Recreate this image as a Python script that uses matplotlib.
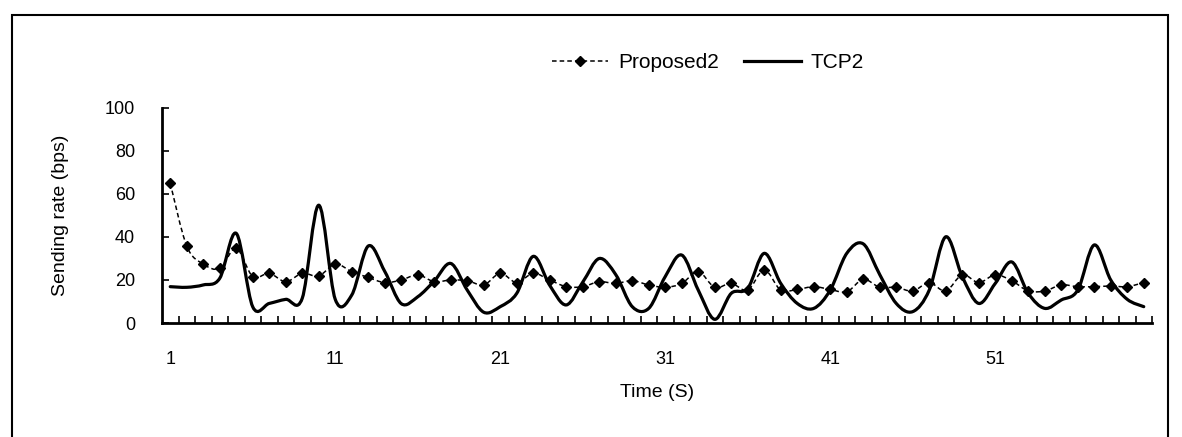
import matplotlib
matplotlib.use("Agg")
import matplotlib.pyplot as plt
import numpy as np
from matplotlib.path import Path
from matplotlib.patches import PathPatch, Rectangle
from matplotlib.lines import Line2D

# ---- data ----
time = list(range(1, 61))
proposed2 = [65.0, 35.8, 27.4, 25.4, 34.7, 21.6, 23.1, 19.2, 23.1, 21.9,
             27.4, 23.9, 21.2, 18.8, 20.0, 22.4, 19.2, 20.0, 19.7, 17.7,
             23.1, 18.8, 23.1, 20.0, 16.9, 16.9, 19.2, 18.4, 19.7, 17.7,
             16.6, 18.4, 23.9, 16.6, 18.4, 15.3, 24.7, 15.3, 15.6, 16.9,
             15.6, 14.5, 20.3, 16.6, 16.6, 14.9, 18.8, 14.9, 22.4, 18.8,
             22.4, 19.7, 14.9, 14.9, 17.7, 16.9, 16.9, 17.2, 16.9, 18.8]
tcp2 = [16.9, 16.6, 17.7, 20.8, 41.7, 7.5, 9.1, 11.0, 11.5, 54.8,
        11.0, 13.0, 35.8, 24.0, 9.0, 12.2, 19.5, 27.7, 15.3, 5.0,
        7.6, 13.8, 31.0, 17.5, 8.4, 19.0, 30.0, 22.5, 7.6, 6.8,
        21.6, 31.6, 15.3, 1.7, 13.8, 16.1, 32.4, 18.4, 9.1, 6.8,
        15.3, 32.4, 36.8, 22.5, 9.1, 5.3, 15.3, 40.1, 21.6, 9.1,
        18.4, 28.4, 13.8, 6.8, 10.7, 15.3, 36.3, 20.0, 11.0, 7.6]
xtick_labels = ["1", "11", "21", "31", "41", "51"]
yticks = [0, 20, 40, 60, 80, 100]
series_names = ["Proposed2", "TCP2"]

FONT = "Liberation Sans"
FS = 13


def smooth_path(xs, ys):
    """Excel-like smoothed line rendered as cubic Bezier segments through the data points."""
    xs = np.asarray(xs, float)
    ys = np.asarray(ys, float)
    n = len(xs)
    verts = [(xs[0], ys[0])]
    codes = [Path.MOVETO]
    for i in range(n - 1):
        p0 = np.array([xs[max(i - 1, 0)], ys[max(i - 1, 0)]])
        p1 = np.array([xs[i], ys[i]])
        p2 = np.array([xs[i + 1], ys[i + 1]])
        p3 = np.array([xs[min(i + 2, n - 1)], ys[min(i + 2, n - 1)]])
        c1 = p1 + (p2 - p0) / 6.0
        c2 = p2 - (p3 - p1) / 6.0
        verts += [tuple(c1), tuple(c2), tuple(p2)]
        codes += [Path.CURVE4] * 3
    return Path(verts, codes)


fig = plt.figure(figsize=(11.82, 4.37), dpi=100)
ax = fig.add_axes([162 / 1182, 1 - 323 / 437, (1152 - 162) / 1182, (323 - 108) / 437])

# Proposed2: dashed smoothed line with diamond markers
ax.add_patch(PathPatch(smooth_path(time, proposed2), fill=False, edgecolor="black",
                       linewidth=1.1, linestyle=(0, (3, 2)), zorder=3))
ax.plot(time, proposed2, linestyle="none", marker="D", markersize=5,
        color="black", zorder=4)

# TCP2: thick smoothed solid line
ax.add_patch(PathPatch(smooth_path(time, tcp2), fill=False, edgecolor="black",
                       linewidth=2.3, zorder=3, capstyle="round", joinstyle="round"))

ax.set_xlim(0.5, 60.5)
ax.set_ylim(0, 100)

ax.set_xticks([int(t) for t in xtick_labels])
ax.set_xticklabels(xtick_labels, fontsize=FS, family=FONT)
ax.set_xticks(np.arange(1.5, 61, 1.0), minor=True)
ax.tick_params(axis="x", which="major", length=0, pad=20)
ax.tick_params(axis="x", which="minor", direction="in", length=5, width=1.2)

ax.set_yticks(yticks)
ax.set_yticklabels([str(v) for v in yticks], fontsize=FS, family=FONT)
ax.tick_params(axis="y", which="major", direction="in", length=5, width=1.2, pad=19.5)

for s in ["top", "right"]:
    ax.spines[s].set_visible(False)
for s in ["left", "bottom"]:
    ax.spines[s].set_linewidth(2)
    ax.spines[s].set_color("black")

ax.set_xlabel("Time (S)", fontsize=FS + 1, family=FONT, labelpad=12)
ax.set_ylabel("Sending rate (bps)", fontsize=FS + 1, family=FONT, labelpad=26)

handles = [
    Line2D([0, 1, 2], [0, 0, 0], color="black", linewidth=1.1, linestyle=(0, (3, 2)),
           marker="D", markersize=5, markevery=[1]),
    Line2D([], [], color="black", linewidth=2.3),
]
fig.legend(handles, series_names, loc="center", bbox_to_anchor=(0.599, 0.856),
           ncol=2, frameon=False, prop={"family": FONT, "size": 15},
           handlelength=2.7, handletextpad=0.5, columnspacing=1.2)

# outer frame
fig.add_artist(Rectangle((12 / 1182, -0.1), (1168 - 12) / 1182, 0.1 + (1 - 15 / 437),
                         transform=fig.transFigure, fill=False, edgecolor="black",
                         linewidth=1.5))

fig.savefig("out.png", dpi=100)
